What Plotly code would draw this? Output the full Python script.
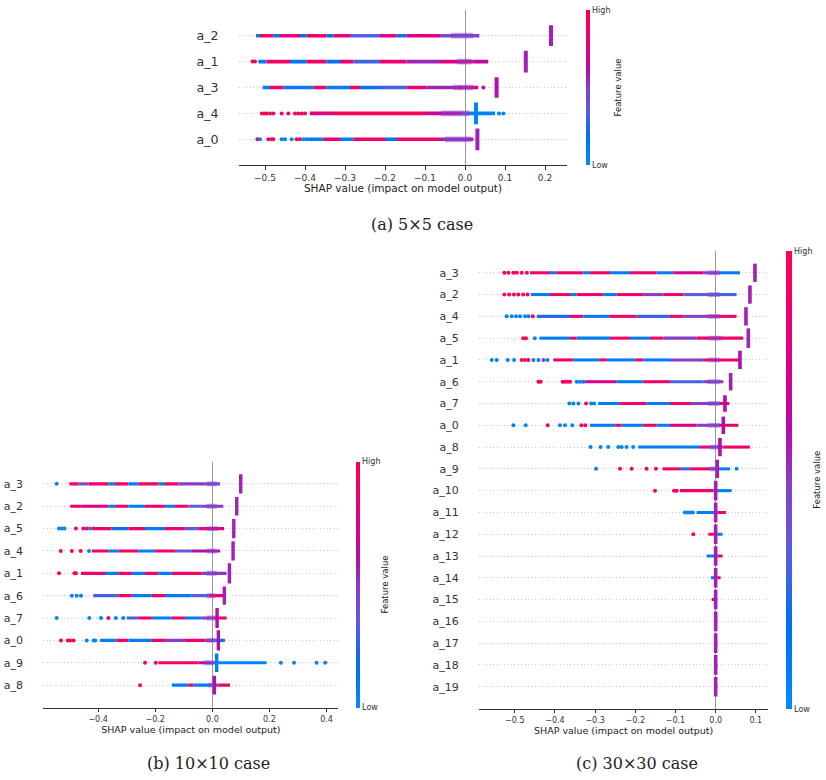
import plotly.graph_objects as go

W, H = 826, 780

# shap-like red/blue colormap (0 = low feature value, 1 = high)
RED_BLUE = [
    [0.0, "#008bfb"], [0.18, "#0070f0"], [0.35, "#5b5cdf"], [0.5, "#8a3dc4"],
    [0.6, "#b10fa9"], [0.75, "#d9008a"], [0.9, "#f30066"], [1.0, "#ff0052"],
]

# ---------------- (a) 5x5 case ----------------
A_FEATURES = ["a_2", "a_1", "a_3", "a_4", "a_0"]
A_BAND_X = {
    "a_2": [-0.5225, -0.5125, -0.479, -0.4625, -0.4125, -0.396, -0.346, -0.329, -0.2875, -0.2125, -0.171, -0.146, -0.0625, 0.036],
    "a_1": [-0.5165, -0.496, -0.4375, -0.396, -0.346, -0.3125, -0.279, -0.2125, -0.146, -0.0625, 0.021, 0.058],
    "a_3": [-0.506, -0.4875, -0.454, -0.379, -0.346, -0.2875, -0.2625, -0.2125, -0.146, -0.096, -0.021, 0.033],
    "a_4": [-0.3875, -0.33, -0.1, -0.01, 0.01, 0.075],
    "a_0": [-0.392, -0.354, -0.3125, -0.279, -0.2, -0.17, -0.0625, 0.021],
}
A_BAND_V = {
    "a_2": [0.1, 0.9, 0.15, 0.85, 0.2, 0.9, 0.15, 0.85, 0.35, 0.85, 0.2, 0.8, 0.45],
    "a_1": [0.1, 0.9, 0.15, 0.9, 0.15, 0.85, 0.3, 0.85, 0.55, 0.8, 0.65],
    "a_3": [0.1, 0.9, 0.1, 0.9, 0.1, 0.9, 0.15, 0.3, 0.85, 0.55, 0.8],
    "a_4": [0.8, 0.95, 0.7, 0.45, 0.05],
    "a_0": [0.1, 0.9, 0.1, 0.9, 0.15, 0.9, 0.55],
}
A_DOTS = {
    "a_2": [],
    "a_1": [(-0.531, 0.95), (-0.525, 0.95)],
    "a_3": [(0.046, 0.7)],
    "a_4": [(-0.508, 0.95), (-0.502, 0.95), (-0.496, 0.95), (-0.4875, 0.95), (-0.479, 0.95),
            (-0.4583, 0.95), (-0.4417, 0.95), (-0.425, 0.95), (-0.4167, 0.95), (-0.408, 0.95),
            (-0.4, 0.95), (0.085, 0.05), (0.096, 0.05)],
    "a_0": [(-0.519, 0.95), (-0.5125, 0.05), (-0.4917, 0.95), (-0.4833, 0.95), (-0.479, 0.95),
            (-0.4583, 0.05), (-0.45, 0.05), (-0.4333, 0.05), (-0.421, 0.95), (-0.4125, 0.95),
            (-0.404, 0.05), (-0.396, 0.05)],
}
A_BLOBS = {  # x, half height (rows), colour value
    "a_2": (0.215, 0.40, 0.56), "a_1": (0.152, 0.42, 0.56), "a_3": (0.079, 0.40, 0.6),
    "a_4": (0.0275, 0.42, 0.05), "a_0": (0.031, 0.42, 0.56),
}
A_CORE = {
    "a_2": (-0.035, 0.02), "a_1": (-0.02, 0.015), "a_3": (-0.03, 0.02),
    "a_4": (-0.06, 0.01), "a_0": (-0.05, 0.015),
}

# ---------------- (b) 10x10 case ----------------
B_FEATURES = ["a_3", "a_2", "a_5", "a_4", "a_1", "a_6", "a_7", "a_0", "a_9", "a_8"]
B_BAND_X = {
    "a_3": [-0.5007, -0.469, -0.434, -0.364, -0.3407, -0.294, -0.259, -0.189, -0.166, -0.119, -0.0254, 0.027],
    "a_2": [-0.498, -0.457, -0.364, -0.3407, -0.294, -0.236, -0.166, -0.131, -0.0835, -0.037, 0.0385],
    "a_5": [-0.413, -0.353, -0.294, -0.236, -0.166, -0.096, -0.0495, 0.041],
    "a_4": [-0.422, -0.364, -0.329, -0.259, -0.2, -0.131, -0.072, 0.027],
    "a_1": [-0.46, -0.376, -0.329, -0.282, -0.236, -0.189, -0.142, -0.0371, 0.05],
    "a_6": [-0.417, -0.329, -0.282, -0.212, -0.166, -0.072, -0.014, 0.044],
    "a_7": [-0.3, -0.259, -0.212, -0.142, -0.096, -0.037, -0.002, 0.05],
    "a_0": [-0.393, -0.335, -0.294, -0.212, -0.166, -0.096, -0.0254, 0.0096, 0.044],
    "a_9": [-0.189, -0.049, -0.002, 0.0096, 0.19],
    "a_8": [-0.142, -0.084, -0.066, -0.002, 0.021, 0.062],
}
B_BAND_V = {
    "a_3": [0.9, 0.45, 0.9, 0.1, 0.9, 0.1, 0.9, 0.1, 0.9, 0.5, 0.45],
    "a_2": [0.9, 0.8, 0.1, 0.9, 0.1, 0.9, 0.1, 0.9, 0.35, 0.5],
    "a_5": [0.9, 0.2, 0.9, 0.1, 0.9, 0.35, 0.8],
    "a_4": [0.9, 0.1, 0.9, 0.1, 0.9, 0.35, 0.6],
    "a_1": [0.9, 0.1, 0.9, 0.1, 0.9, 0.1, 0.9, 0.5],
    "a_6": [0.3, 0.9, 0.1, 0.9, 0.1, 0.35, 0.9],
    "a_7": [0.3, 0.9, 0.1, 0.9, 0.1, 0.5, 0.9],
    "a_0": [0.1, 0.9, 0.1, 0.9, 0.5, 0.9, 0.5, 0.1],
    "a_9": [0.9, 0.6, 0.45, 0.05],
    "a_8": [0.1, 0.9, 0.1, 0.5, 0.9],
}
B_DOTS = {
    "a_3": [(-0.545, 0.05)],
    "a_2": [],
    "a_5": [(-0.537, 0.05), (-0.527, 0.05), (-0.518, 0.05), (-0.478, 0.95), (-0.452, 0.95),
            (-0.44, 0.95), (-0.429, 0.05), (-0.417, 0.95)],
    "a_4": [(-0.531, 0.95), (-0.492, 0.95), (-0.461, 0.95), (-0.432, 0.05)],
    "a_1": [(-0.537, 0.95), (-0.483, 0.95), (-0.478, 0.95)],
    "a_6": [(-0.492, 0.05), (-0.475, 0.05), (-0.46, 0.05)],
    "a_7": [(-0.545, 0.05), (-0.431, 0.05), (-0.39, 0.05), (-0.364, 0.95), (-0.338, 0.05), (-0.312, 0.05)],
    "a_0": [(-0.53, 0.95), (-0.506, 0.95), (-0.498, 0.95), (-0.486, 0.95), (-0.44, 0.05),
            (-0.416, 0.05), (-0.41, 0.05)],
    "a_9": [(-0.2357, 0.95), (-0.198, 0.95), (0.24, 0.05), (0.286, 0.05), (0.365, 0.05), (0.395, 0.05)],
    "a_8": [(-0.253, 0.95)],
}
B_BLOBS = {
    "a_3": (0.0994, 0.43, 0.56), "a_2": (0.0854, 0.41, 0.56), "a_5": (0.075, 0.43, 0.56),
    "a_4": (0.0726, 0.43, 0.56), "a_1": (0.0597, 0.45, 0.56), "a_6": (0.042, 0.41, 0.56),
    "a_7": (0.0165, 0.45, 0.6), "a_0": (0.021, 0.45, 0.6), "a_9": (0.015, 0.41, 0.08),
    "a_8": (0.007, 0.42, 0.6),
}
B_CORE = {
    "a_3": (-0.02, 0.015), "a_2": (-0.02, 0.015), "a_5": (-0.02, 0.02), "a_4": (-0.02, 0.015),
    "a_1": (-0.02, 0.015), "a_6": (-0.02, 0.01), "a_7": (-0.02, 0.01), "a_0": (-0.02, 0.01),
    "a_9": (-0.03, 0.005), "a_8": (-0.015, 0.01),
}

# ---------------- (c) 30x30 case ----------------
C_FEATURES = ["a_3", "a_2", "a_4", "a_5", "a_1", "a_6", "a_7", "a_0", "a_8", "a_9",
              "a_10", "a_11", "a_12", "a_13", "a_14", "a_15", "a_16", "a_17", "a_18", "a_19"]
C_BAND_X = {
    "a_3": [-0.462, -0.4123, -0.3957, -0.3294, -0.3126, -0.2631, -0.2133, -0.1469, -0.1054, -0.0308, 0.0108, 0.0605],
    "a_2": [-0.46, -0.4123, -0.3625, -0.346, -0.2797, -0.2465, -0.1802, -0.1304, -0.0807, -0.0143, 0.052],
    "a_4": [-0.4453, -0.3625, -0.3294, -0.2631, -0.1967, -0.1138, -0.0807, -0.0143, 0.052],
    "a_5": [-0.4387, -0.3625, -0.346, -0.2631, -0.2133, -0.1636, -0.1304, -0.0475, 0.0687],
    "a_1": [-0.404, -0.354, -0.29, -0.27, -0.2, -0.18, -0.1138, -0.0308, 0.0605],
    "a_6": [-0.325, -0.2465, -0.1802, -0.1138, -0.0308, 0.019],
    "a_7": [-0.292, -0.2382, -0.1718, -0.1138, -0.0639, 0.0108, 0.034],
    "a_0": [-0.3127, -0.25, -0.235, -0.1802, -0.147, -0.1138, -0.0474, 0.0108, 0.0563],
    "a_8": [-0.1925, -0.0391, -0.0143, 0.0189, 0.0853],
    "a_9": [-0.1319, -0.0889, -0.064, -0.0143, 0.0108, 0.0357],
    "a_10": [-0.0889, -0.0059, 0.0025, 0.0398],
    "a_11": [-0.0473, -0.004, 0.004, 0.0256],
    "a_12": [-0.0184, -0.004, 0.004, 0.0172],
    "a_13": [-0.0225, -0.004, 0.004, 0.0172],
    "a_14": [-0.0117, -0.004, 0.004, 0.0123],
    "a_15": [-0.01, -0.003, 0.004],
    "a_16": [-0.003, 0.004],
    "a_17": [-0.003, 0.004],
    "a_18": [-0.003, 0.004],
    "a_19": [-0.003, 0.004],
}
C_BAND_V = {
    "a_3": [0.9, 0.1, 0.9, 0.1, 0.9, 0.1, 0.9, 0.1, 0.75, 0.5, 0.1],
    "a_2": [0.1, 0.9, 0.1, 0.9, 0.1, 0.9, 0.5, 0.9, 0.35, 0.3],
    "a_4": [0.25, 0.9, 0.1, 0.9, 0.3, 0.9, 0.5, 0.9],
    "a_5": [0.1, 0.9, 0.1, 0.9, 0.1, 0.9, 0.5, 0.9],
    "a_1": [0.9, 0.1, 0.9, 0.1, 0.9, 0.1, 0.5, 0.9],
    "a_6": [0.75, 0.1, 0.9, 0.3, 0.5],
    "a_7": [0.1, 0.9, 0.1, 0.9, 0.5, 0.9],
    "a_0": [0.1, 0.9, 0.1, 0.9, 0.1, 0.75, 0.5, 0.9],
    "a_8": [0.1, 0.9, 0.5, 0.9],
    "a_9": [0.9, 0.3, 0.9, 0.5, 0.1],
    "a_10": [0.9, 0.5, 0.1],
    "a_11": [0.1, 0.5, 0.9],
    "a_12": [0.9, 0.5, 0.1],
    "a_13": [0.1, 0.5, 0.9],
    "a_14": [0.1, 0.5, 0.9],
    "a_15": [0.9, 0.1],
    "a_16": [0.9],
    "a_17": [0.9],
    "a_18": [0.1],
    "a_19": [0.1],
}
C_DOTS = {
    "a_3": [(-0.526, 0.95), (-0.5157, 0.95), (-0.5033, 0.95), (-0.495, 0.95), (-0.4826, 0.95), (-0.47, 0.95)],
    "a_2": [(-0.526, 0.95), (-0.514, 0.95), (-0.502, 0.95), (-0.491, 0.95), (-0.479, 0.95), (-0.468, 0.95)],
    "a_4": [(-0.52, 0.05), (-0.5075, 0.05), (-0.4967, 0.05), (-0.4868, 0.05), (-0.4743, 0.05),
            (-0.466, 0.05), (-0.4553, 0.95)],
    "a_5": [(-0.479, 0.95), (-0.472, 0.95), (-0.45, 0.05)],
    "a_1": [(-0.5573, 0.05), (-0.5448, 0.05), (-0.5175, 0.05), (-0.5017, 0.05), (-0.4826, 0.95),
            (-0.4743, 0.95), (-0.466, 0.95), (-0.4536, 0.05), (-0.4411, 0.05), (-0.4287, 0.5),
            (-0.4187, 0.05)],
    "a_6": [(-0.4412, 0.95), (-0.4354, 0.95), (-0.3806, 0.95), (-0.3745, 0.95), (-0.3685, 0.95),
            (-0.3624, 0.95), (-0.3458, 0.05), (-0.3375, 0.05), (-0.3292, 0.05)],
    "a_7": [(-0.3641, 0.05), (-0.3541, 0.05), (-0.3417, 0.05), (-0.3226, 0.95), (-0.31, 0.05), (-0.3026, 0.05)],
    "a_0": [(-0.5034, 0.05), (-0.4728, 0.05), (-0.4181, 0.95), (-0.3874, 0.05), (-0.375, 0.05),
            (-0.3568, 0.05), (-0.3342, 0.95), (-0.3243, 0.95)],
    "a_8": [(-0.3112, 0.05), (-0.2864, 0.05), (-0.2673, 0.05), (-0.2424, 0.05), (-0.2341, 0.05),
            (-0.2217, 0.05), (-0.2051, 0.05)],
    "a_9": [(-0.2977, 0.05), (-0.2382, 0.95), (-0.2092, 0.95), (-0.1719, 0.95), (-0.1486, 0.95), (0.052, 0.05)],
    "a_10": [(-0.151, 0.95), (-0.1037, 0.95), (-0.097, 0.95)],
    "a_11": [(-0.0766, 0.05), (-0.0691, 0.05), (-0.0625, 0.05), (-0.0567, 0.05)],
    "a_12": [(-0.0556, 0.95)],
}
C_BLOBS = {
    "a_3": (0.0978, 0.42, 0.56), "a_2": (0.0853, 0.42, 0.56), "a_4": (0.0754, 0.42, 0.56),
    "a_5": (0.0812, 0.45, 0.56), "a_1": (0.0605, 0.42, 0.6), "a_6": (0.0373, 0.40, 0.56),
    "a_7": (0.0231, 0.38, 0.6), "a_0": (0.019, 0.40, 0.6), "a_8": (0.0107, 0.42, 0.6),
    "a_9": (0.004, 0.42, 0.56), "a_10": (0.0, 0.45, 0.56), "a_11": (0.0, 0.45, 0.56),
    "a_12": (0.0, 0.45, 0.56), "a_13": (0.0, 0.45, 0.56), "a_14": (0.0, 0.45, 0.56),
    "a_15": (0.0, 0.45, 0.56), "a_16": (0.0, 0.45, 0.56), "a_17": (0.0, 0.45, 0.56),
    "a_18": (0.0, 0.45, 0.56), "a_19": (0.0, 0.45, 0.56),
}
C_CORE = {
    "a_3": (-0.02, 0.01), "a_2": (-0.02, 0.01), "a_4": (-0.02, 0.01), "a_5": (-0.02, 0.015),
    "a_1": (-0.02, 0.01), "a_6": (-0.02, 0.01), "a_7": (-0.02, 0.01), "a_0": (-0.02, 0.01),
    "a_8": (-0.015, 0.01), "a_9": (-0.015, 0.008),
}

CAPTIONS = ["(a) 5×5 case", "(b) 10×10 case", "(c) 30×30 case"]
X_TITLE = "SHAP value (impact on model output)"


def px(x):
    return x / W


def py(y):
    return 1 - y / H


# layout of the three panels, in pixels of the 826x780 page
PANELS = [
    dict(feats=A_FEATURES, bx=A_BAND_X, bv=A_BAND_V, dots=A_DOTS, blobs=A_BLOBS, core=A_CORE,
         xpix=(239, 567), ypix=(9.8, 165.2), xrange=(-0.565, 0.255), dtick=0.1, blob_t=0.01,
         cbar_x=586, cbar_w=4, fv_x=617, lab=12.6, tick=9, ttl=10.5, cap=(422, 225)),
    dict(feats=B_FEATURES, bx=B_BAND_X, bv=B_BAND_V, dots=B_DOTS, blobs=B_BLOBS, core=B_CORE,
         xpix=(43.3, 338.3), ypix=(461.5, 707.5), xrange=(-0.592, 0.441), dtick=0.2, blob_t=0.012,
         cbar_x=356, cbar_w=4, fv_x=384, lab=11, tick=8, ttl=9.5, cap=(209, 763)),
    dict(feats=C_FEATURES, bx=C_BAND_X, bv=C_BAND_V, dots=C_DOTS, blobs=C_BLOBS, core=C_CORE,
         xpix=(479, 768.3), ypix=(251, 708.5), xrange=(-0.589, 0.131), dtick=0.1, blob_t=0.009,
         cbar_x=785.7, cbar_w=6, fv_x=817, lab=11, tick=8, ttl=9.5, cap=(637, 763)),
]

fig = go.Figure()
annotations = []

for i, p in enumerate(PANELS):
    k = "" if i == 0 else str(i + 1)
    n = len(p["feats"])
    xa, ya = "x" + k, "y" + k

    seg_y, seg_base, seg_len, seg_v = [], [], [], []
    core_y, core_base, core_len = [], [], []
    dot_x, dot_y, dot_v = [], [], []
    blob_y, blob_base, blob_w, blob_v = [], [], [], []
    for j, f in enumerate(p["feats"]):
        yy = n - 1 - j
        xs, vs = p["bx"][f], p["bv"][f]
        for a, b, v in zip(xs[:-1], xs[1:], vs):
            seg_y.append(yy)
            seg_base.append(a)
            seg_len.append(b - a)
            seg_v.append(v)
        if f in p["core"]:
            c0, c1 = p["core"][f]
            core_y.append(yy)
            core_base.append(c0)
            core_len.append(c1 - c0)
        for dx, dv in p["dots"].get(f, []):
            dot_x.append(dx)
            dot_y.append(yy)
            dot_v.append(dv)
        bxp, bh, bv = p["blobs"][f]
        blob_y.append(yy)
        blob_base.append(bxp - p["blob_t"] / 2)
        blob_w.append(2 * bh)
        blob_v.append(bv)

    y_top, y_bot = p["ypix"]
    fig.add_trace(go.Bar(
        orientation="h", y=seg_y, base=seg_base, x=seg_len, width=0.14,
        marker=dict(
            color=seg_v, colorscale=RED_BLUE, cmin=0, cmax=1, line=dict(width=0),
            showscale=True,
            colorbar=dict(
                x=px(p["cbar_x"]), xanchor="left", xpad=0, ypad=0,
                y=py((y_top + y_bot) / 2), yanchor="middle",
                len=(y_bot - y_top) / H, lenmode="fraction",
                thickness=p["cbar_w"], outlinewidth=0,
                tickvals=[0, 1], ticktext=["Low", "High"], ticks="",
                tickfont=dict(size=8, color="#333333"),
            ),
        ),
        xaxis=xa, yaxis=ya, hoverinfo="skip", showlegend=False,
    ))
    fig.add_trace(go.Bar(
        orientation="h", y=core_y, base=core_base, x=core_len, width=0.22,
        marker=dict(color="rgba(128,70,205,0.5)", line=dict(width=0)),
        xaxis=xa, yaxis=ya, hoverinfo="skip", showlegend=False,
    ))
    fig.add_trace(go.Scatter(
        x=dot_x, y=dot_y, mode="markers",
        marker=dict(size=4, color=dot_v, colorscale=RED_BLUE, cmin=0, cmax=1, line=dict(width=0)),
        xaxis=xa, yaxis=ya, hoverinfo="skip", showlegend=False,
    ))
    fig.add_trace(go.Bar(
        orientation="h", y=blob_y, base=blob_base, x=[p["blob_t"]] * n, width=blob_w,
        marker=dict(color=blob_v, colorscale=RED_BLUE, cmin=0, cmax=1, line=dict(width=0)),
        xaxis=xa, yaxis=ya, hoverinfo="skip", showlegend=False,
    ))

    x0, x1 = p["xpix"]
    fig.update_layout(**{
        "xaxis" + k: dict(
            domain=[px(x0), px(x1)], range=list(p["xrange"]), anchor=ya,
            showline=True, linecolor="#333333", linewidth=1,
            ticks="outside", ticklen=3.5, tickcolor="#333333", tickwidth=1,
            tick0=0, dtick=p["dtick"], tickformat=".1f",
            tickfont=dict(size=p["tick"], color="#333333"),
            showgrid=False, zeroline=True, zerolinecolor="#999999", zerolinewidth=1.3,
            title=dict(text=X_TITLE, font=dict(size=p["ttl"], color="#222222"), standoff=2),
        ),
        "yaxis" + k: dict(
            domain=[py(y_bot), py(y_top)], range=[-1, n], anchor=xa,
            tickvals=list(range(n)), ticktext=list(reversed(p["feats"])),
            ticks="outside", ticklen=17, tickcolor="rgba(0,0,0,0)",
            tickfont=dict(size=p["lab"], color="#333333"),
            showgrid=True, griddash="1px,2.5px", gridcolor="#c8c8c8", gridwidth=1,
            zeroline=False, showline=False,
        ),
    })

    annotations.append(dict(
        text="Feature value", x=px(p["fv_x"]), y=py((y_top + y_bot) / 2),
        xref="paper", yref="paper", xanchor="center", yanchor="middle",
        showarrow=False, textangle=-90,
        font=dict(size=8.5, color="#222222"),
    ))
    annotations.append(dict(
        text=CAPTIONS[i], x=px(p["cap"][0]), y=py(p["cap"][1]),
        xref="paper", yref="paper", xanchor="center", yanchor="middle",
        showarrow=False,
        font=dict(family="DejaVu Serif", size=16, color="#222222"),
    ))

fig.update_layout(
    width=W, height=H, margin=dict(l=0, r=0, t=0, b=0),
    barmode="overlay", showlegend=False,
    paper_bgcolor="white", plot_bgcolor="white",
    font=dict(family="DejaVu Sans", color="#333333"),
    annotations=annotations,
)

# the page body has a default 8px margin; remove it so the figure fills the window
fig.write_html("out.html", config={"displayModeBar": False},
               post_script="document.body.style.margin='0px';")
